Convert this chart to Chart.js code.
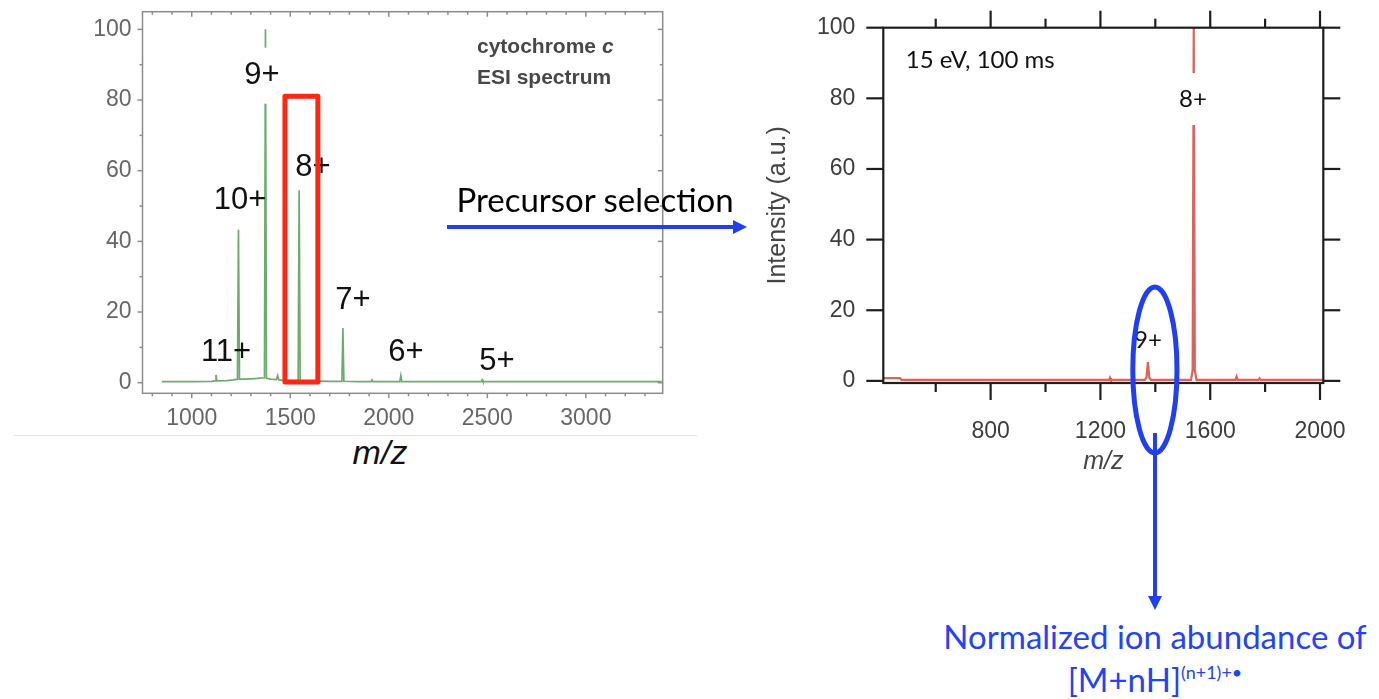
<!DOCTYPE html>
<html>
<head>
<meta charset="utf-8">
<script src="https://cdn.jsdelivr.net/npm/chart.js@4"></script>
<style>
  body { margin: 0; width: 1379px; height: 699px; background: #fff; position: relative; overflow: hidden; font-family: 'Liberation Sans', Arial, sans-serif; }
  .box { position: absolute; }
  .note { position: absolute; white-space: nowrap; }
</style>
</head>
<body>
<div class="box" style="left:0;top:0;width:700px;height:430px"><canvas id="esiChart"></canvas></div>
<div class="box" style="left:760px;top:0;width:600px;height:480px"><canvas id="cidChart"></canvas></div>

<div class="note" style="left:14px;top:435px;width:683px;height:1px;background:#e2e2e2"></div>
<div class="note" style="left:380px;top:452px;transform:translate(-50%,-50%);font:italic 34px 'Liberation Sans',Arial;color:#111">m/z</div>
<div class="note" style="left:477px;top:30px;font:bold 21px 'Liberation Sans',Arial;color:#474747;line-height:31px">cytochrome <i>c</i><br>ESI spectrum</div>

<div class="note" style="left:595px;top:199px;transform:translate(-50%,-50%);font:33px Lato,sans-serif;color:#000">Precursor selection</div>
<div class="note" style="left:1155px;top:636px;transform:translate(-50%,-50%);font:33px Lato,sans-serif;color:#2443f2">Normalized ion abundance of</div>
<div class="note" style="left:1155px;top:679px;transform:translate(-50%,-50%);font:33px Lato,sans-serif;color:#2443f2">[M+nH]<sup style="font-size:18px;vertical-align:13px">(n+1)+•</sup></div>

<svg class="note" style="left:0;top:0" width="1379" height="699">
  <line x1="447" y1="227" x2="735" y2="227" stroke="#1f3ff0" stroke-width="4"/>
  <polygon points="733,220 747,227 733,234" fill="#1f3ff0"/>
  <line x1="1155" y1="433" x2="1155" y2="598" stroke="#1f3ff0" stroke-width="4"/>
  <polygon points="1148,596 1162,596 1155,610" fill="#1f3ff0"/>
</svg>

<script>
// ESI spectrum of cytochrome c (left panel)
const esiMz = [848, 1000, 1100, 1119, 1123, 1127, 1180, 1210, 1232, 1237, 1242, 1260, 1300, 1330, 1369, 1374, 1379,
  1400, 1430, 1436, 1442, 1470, 1540, 1545, 1550, 1600, 1700, 1762, 1767, 1772, 1850, 1910, 1915, 1920,
  2000, 2056, 2061, 2066, 2200, 2470, 2474, 2478, 2800, 3000, 3385];
const esiIntensity = [0.3, 0.3, 0.4, 0.5, 2.2, 0.5, 0.6, 0.8, 1.0, 43.3, 1.0, 1.0, 1.1, 1.2, 1.4, 100, 1.3,
  1.0, 0.9, 2.0, 0.8, 0.6, 0.6, 54.5, 0.6, 0.5, 0.4, 0.4, 15.5, 0.4, 0.3, 0.3, 0.8, 0.3,
  0.3, 0.3, 2.0, 0.3, 0.3, 0.3, 0.8, 0.3, 0.3, 0.3, 0.3];
const esiXTicks = [1000, 1500, 2000, 2500, 3000];
const esiYTicks = [0, 20, 40, 60, 80, 100];
const esiCharges = ['11+', '10+', '9+', '8+', '7+', '6+', '5+'];

// isolated 8+ precursor after activation (right panel)
const cidMz = [410, 470, 475, 600, 800, 1000, 1200, 1232, 1235, 1238, 1300, 1362, 1368, 1373, 1378, 1384,
  1500, 1530, 1536, 1540, 1544, 1550, 1600, 1692, 1696, 1700, 1776, 1780, 1784, 1900, 2011];
const cidIntensity = [0.8, 0.8, 0.3, 0.3, 0.3, 0.3, 0.3, 0.3, 0.9, 0.3, 0.3, 0.3, 1.0, 5.3, 1.0, 0.3,
  0.3, 0.3, 3.0, 100, 3.0, 0.3, 0.3, 0.3, 1.2, 0.3, 0.3, 0.7, 0.3, 0.3, 0.3];
const cidXTicks = [800, 1200, 1600, 2000];
const cidYTicks = [0, 20, 40, 60, 80, 100];
const cidCharges = ['8+', '9+'];

// frame with inner/outer tick marks (major + minor)
const frameTicks = {
  id: 'frameTicks',
  afterDraw(chart, args, o) {
    const {ctx, chartArea: a, scales: {x, y}} = chart;
    ctx.save();
    ctx.strokeStyle = o.color;
    ctx.lineWidth = o.width;
    ctx.strokeRect(a.left, a.top, a.right - a.left, a.bottom - a.top);
    const line = (x0, y0, x1, y1) => { ctx.beginPath(); ctx.moveTo(x0, y0); ctx.lineTo(x1, y1); ctx.stroke(); };
    for (let v = Math.ceil(x.min / o.xMinor) * o.xMinor; v <= x.max; v += o.xMinor) {
      const len = v % o.xMajor === 0 ? o.majorLen : o.minorLen;
      const px = x.getPixelForValue(v);
      line(px, a.bottom, px, a.bottom + (o.bottomOut ? len : -len));
      line(px, a.top, px, a.top + (o.topOut ? -len : len));
    }
    for (let v = Math.ceil(y.min / o.yMinor) * o.yMinor; v <= y.max; v += o.yMinor) {
      const len = v % o.yMajor === 0 ? o.majorLen : o.minorLen;
      const py = y.getPixelForValue(v);
      line(a.left, py, a.left + (o.leftOut ? -len : len), py);
      line(a.right, py, a.right + (o.rightOut ? len : -len), py);
    }
    ctx.restore();
  }
};

// charge-state labels, optionally on a white patch that hides the peak behind
const peakLabels = {
  id: 'peakLabels',
  afterDatasetsDraw(chart, args, o) {
    const {ctx, scales: {x, y}} = chart;
    ctx.save();
    ctx.font = o.font;
    ctx.fillStyle = o.color;
    ctx.textBaseline = 'middle';
    o.items.forEach(it => {
      const px = x.getPixelForValue(it.x);
      const py = y.getPixelForValue(it.y);
      const w = ctx.measureText(it.text).width;
      const left = it.align === 'left' ? px : px - w / 2;
      if (it.cover) {
        ctx.fillStyle = '#fff';
        ctx.fillRect(left - 3, py - it.cover / 2, w + 6, it.cover);
        ctx.fillStyle = o.color;
      }
      ctx.textAlign = 'left';
      ctx.fillText(it.text, left, py);
    });
    ctx.restore();
  }
};

// red selection box / blue ellipse, bounds given in data units
const highlight = {
  id: 'highlight',
  afterDraw(chart, args, o) {
    if (!o.shape) return;
    const {ctx, scales: {x, y}} = chart;
    const x0 = x.getPixelForValue(o.xMin), x1 = x.getPixelForValue(o.xMax);
    const y0 = y.getPixelForValue(o.yMax), y1 = y.getPixelForValue(o.yMin);
    ctx.save();
    ctx.strokeStyle = o.color;
    ctx.lineWidth = o.width;
    ctx.lineJoin = 'round';
    ctx.beginPath();
    if (o.shape === 'ellipse') {
      ctx.ellipse((x0 + x1) / 2, (y0 + y1) / 2, (x1 - x0) / 2, (y1 - y0) / 2, 0, 0, Math.PI * 2);
    } else {
      ctx.rect(x0, y0, x1 - x0, y1 - y0);
    }
    ctx.stroke();
    ctx.restore();
  }
};

Chart.register(frameTicks, peakLabels, highlight);

function points(xs, ys) {
  return xs.map((v, i) => ({x: v, y: ys[i]}));
}

function fixedTicks(values) {
  return scale => { scale.ticks = values.map(v => ({value: v})); };
}

// pin the axis box size and drop the auto padding for overhanging labels
function fitAxis(size) {
  return s => {
    if (s.isHorizontal()) s.height = size; else s.width = size;
    s.paddingLeft = s.paddingRight = s.paddingTop = s.paddingBottom = 0;
  };
}

const plain = v => String(v);

new Chart(document.getElementById('esiChart'), {
  type: 'line',
  data: {
    datasets: [{
      data: points(esiMz, esiIntensity),
      borderColor: 'rgba(70, 150, 70, 0.8)',
      borderWidth: 1.7,
      pointRadius: 0,
      tension: 0
    }]
  },
  options: {
    responsive: true,
    maintainAspectRatio: false,
    animation: false,
    layout: {padding: {left: 0, top: 11.7, right: 37.3, bottom: 0}},
    plugins: {
      legend: {display: false},
      tooltip: {enabled: false},
      frameTicks: {color: '#8c8c8c', width: 1.5, xMajor: 500, xMinor: 100, yMajor: 20, yMinor: 10,
        majorLen: 5, minorLen: 3, bottomOut: true, leftOut: true, topOut: false, rightOut: false},
      peakLabels: {
        font: '31px "Liberation Sans", Arial', color: '#111',
        items: [
          {text: esiCharges[0], x: 1174, y: 8.7},
          {text: esiCharges[1], x: 1245, y: 51.7},
          {text: esiCharges[2], x: 1356, y: 86.9, cover: 56},
          {text: esiCharges[3], x: 1615, y: 61.0},
          {text: esiCharges[4], x: 1818, y: 23.4},
          {text: esiCharges[5], x: 2087, y: 8.7},
          {text: esiCharges[6], x: 2549, y: 5.9}
        ]
      },
      highlight: {shape: 'rect', xMin: 1473, xMax: 1640, yMin: 0.2, yMax: 81.1, color: '#ff2612', width: 5}
    },
    scales: {
      x: {
        type: 'linear', min: 750, max: 3390,
        afterBuildTicks: fixedTicks(esiXTicks),
        afterFit: fitAxis(36.7),
        grid: {display: true, drawOnChartArea: false, drawTicks: false},
        border: {display: false},
        ticks: {padding: 12, color: '#666', font: {family: 'Liberation Sans', size: 23}, maxRotation: 0, callback: plain}
      },
      y: {
        min: -3, max: 105,
        afterBuildTicks: fixedTicks(esiYTicks),
        afterFit: fitAxis(142.5),
        grid: {display: true, drawOnChartArea: false, drawTicks: false},
        border: {display: false},
        ticks: {padding: 11, color: '#666', font: {family: 'Liberation Sans', size: 23}, callback: plain}
      }
    }
  }
});

new Chart(document.getElementById('cidChart'), {
  type: 'line',
  data: {
    datasets: [{
      data: points(cidMz, cidIntensity),
      borderColor: 'rgba(215, 70, 60, 0.85)',
      borderWidth: 2.2,
      pointRadius: 0,
      tension: 0
    }]
  },
  options: {
    responsive: true,
    maintainAspectRatio: false,
    animation: false,
    layout: {padding: {left: 0, top: 27.7, right: 36.7, bottom: 0}},
    plugins: {
      legend: {display: false},
      tooltip: {enabled: false},
      frameTicks: {color: '#1e1e1e', width: 2.2, xMajor: 400, xMinor: 200, yMajor: 20, yMinor: 20,
        majorLen: 17, minorLen: 9, bottomOut: true, leftOut: true, topOut: true, rightOut: true},
      peakLabels: {
        font: '24px Lato, sans-serif', color: '#111',
        items: [
          {text: '15 eV, 100 ms', x: 491, y: 90.9, align: 'left'},
          {text: cidCharges[0], x: 1537, y: 79.8, cover: 52},
          {text: cidCharges[1], x: 1373, y: 11.6}
        ]
      },
      highlight: {shape: 'ellipse', xMin: 1318, xMax: 1479, yMin: -20.4, yMax: 26.6, color: '#1f3ff0', width: 5}
    },
    scales: {
      x: {
        type: 'linear', min: 409, max: 2012,
        afterBuildTicks: fixedTicks(cidXTicks),
        afterFit: fitAxis(97),
        grid: {display: true, drawOnChartArea: false, drawTicks: false},
        border: {display: false},
        ticks: {padding: 35, color: '#3c3c3c', font: {family: 'Liberation Sans', size: 23}, maxRotation: 0, callback: plain},
        title: {display: true, text: 'm/z', color: '#444', padding: {top: 0, bottom: 3},
          font: {family: 'Liberation Sans', size: 25, style: 'italic'}}
      },
      y: {
        min: -0.6, max: 100,
        afterBuildTicks: fixedTicks(cidYTicks),
        afterFit: fitAxis(123.3),
        grid: {display: true, drawOnChartArea: false, drawTicks: false},
        border: {display: false},
        ticks: {padding: 28, color: '#3c3c3c', font: {family: 'Liberation Sans', size: 23}, callback: plain},
        title: {display: true, text: 'Intensity (a.u.)', color: '#444', padding: {top: 3, bottom: 0},
          font: {family: 'Liberation Sans', size: 25}}
      }
    }
  }
});
</script>
</body>
</html>
